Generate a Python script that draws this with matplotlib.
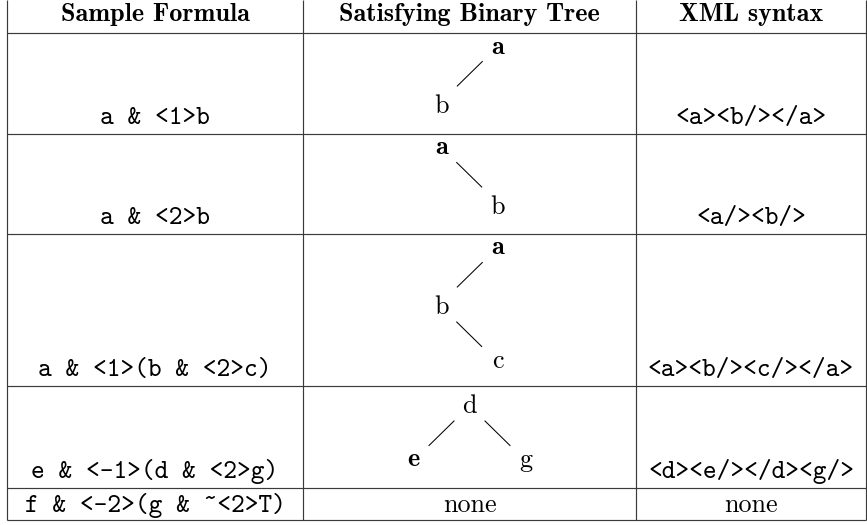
import matplotlib.pyplot as plt

# table contents
headers = ['Sample Formula', 'Satisfying Binary Tree', 'XML syntax']
formulas = ['a & <1>b', 'a & <2>b', 'a & <1>(b & <2>c)',
            'e & <-1>(d & <2>g)', 'f & <-2>(g & ~<2>T)']
xml = ['<a><b/></a>', '<a/><b/>', '<a><b/><c/></a>', '<d><e/></d><g/>', 'none']
# tree nodes: (label, bold, column offset, parent index); None = no tree
trees = [
    [('a', True, 1, None), ('b', False, -1, 0)],
    [('a', True, -1, None), ('b', False, 1, 0)],
    [('a', True, 1, None), ('b', False, -1, 0), ('c', False, 1, 1)],
    [('d', False, 0, None), ('e', True, -2, 0), ('g', False, 2, 0)],
    None,
]

# layout in pixels
W, H = 867, 525
col_edges = [7, 303, 636, 866]
row_edges = [0, 32.5, 133.5, 233.5, 386, 488, 520]
fs = 18.8
line_col = '#3a3a3a'
asc = set('bdfhklt')

fig = plt.figure(figsize=(W / 100, H / 100), dpi=100)
ax = fig.add_axes([0, 0, 1, 1])
ax.set_xlim(0, W)
ax.set_ylim(H, 0)
ax.axis('off')

centers = [(col_edges[i] + col_edges[i + 1]) / 2 for i in range(3)]

# grid lines
for y in row_edges[1:]:
    ax.plot([col_edges[0], col_edges[-1]], [y, y], color=line_col, lw=0.85,
            solid_capstyle='butt')
for x in col_edges:
    ax.plot([x, x], [0, row_edges[-1]], color=line_col, lw=0.85,
            solid_capstyle='butt')

# header
for cx, h in zip(centers, headers):
    ax.text(cx, 21, h, family='cmb10', fontsize=fs, ha='center', va='baseline')

for r in range(5):
    top = row_edges[r + 1]
    bottom = row_edges[r + 2]
    base = bottom - (8 if r == 4 else 10)
    ax.text(centers[0], base, formulas[r], family='cmtt10', fontsize=fs,
            ha='center', va='baseline')
    if xml[r] == 'none':
        ax.text(centers[2], base, xml[r], family='cmr10', fontsize=fs,
                ha='center', va='baseline')
    else:
        ax.text(centers[2], base, xml[r], family='cmtt10', fontsize=fs,
                ha='center', va='baseline')

    tree = trees[r]
    if tree is None:
        ax.text(centers[1], base, 'none', family='cmr10', fontsize=fs,
                ha='center', va='baseline')
        continue
    pos = []
    for label, bold, col, parent in tree:
        x = centers[1] + col * 28.3
        if parent is None:
            y = top + 21 + (6 if label in asc else 0)
        else:
            px, py = pos[parent]
            s = 1 if col > tree[parent][2] else -1
            x0, y0 = px + s * 15.5, py + 8
            x1, y1 = x0 + s * 25, y0 + 24.5
            ax.plot([x0, x1], [y0, y1], color='black', lw=0.75)
            y = y1 + 21 + (6 if label in asc else 0)
        pos.append((x, y))
        ax.text(x, y, label, family='cmb10' if bold else 'cmr10', fontsize=fs,
                ha='center', va='baseline')

fig.savefig('out.png', dpi=100)
